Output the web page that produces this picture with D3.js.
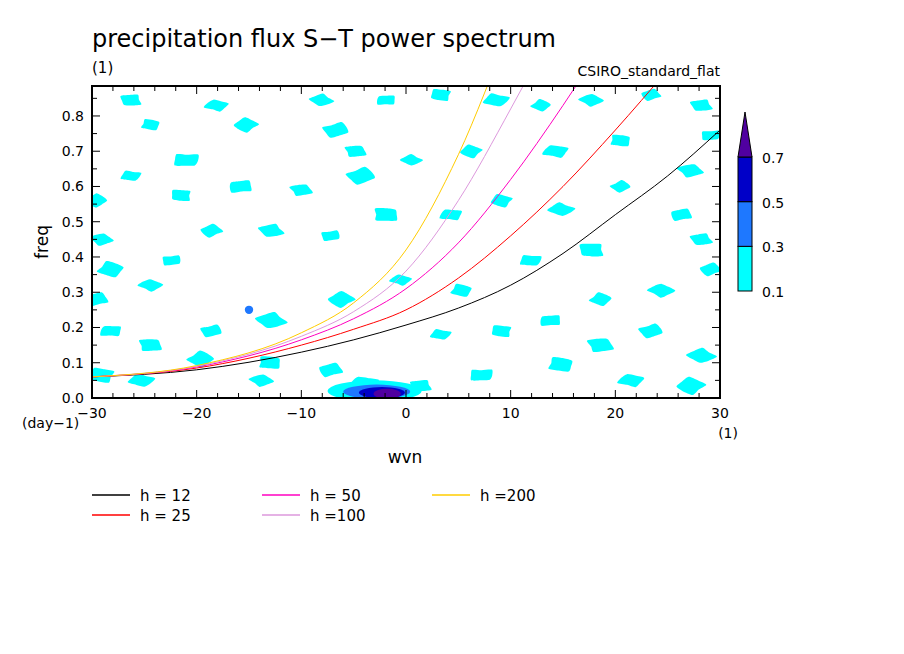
<!DOCTYPE html><html><head><meta charset="utf-8">
<script src="https://cdn.jsdelivr.net/npm/d3@7"></script>
<style>body{margin:0;background:#fff}text{font-family:"DejaVu Sans",sans-serif}</style></head><body>
<svg id="c" width="904" height="654"></svg>
<script>
const xTicks=[-30,-20,-10,0,10,20,30];
const yTicks=[0,0.1,0.2,0.3,0.4,0.5,0.6,0.7,0.8];
const curveWvn=[-30,-20,-10,-5,0,5,10,15,20,25,30];
const hLabels=["h = 12","h = 25","h = 50","h =100","h =200"];
const hColors=["#000000","#ff0000","#ff00c0","#dd99dd","#ffcc00"];
const hFreq=[
 [0.06,0.08,0.13,0.165,0.207,0.255,0.32,0.41,0.52,0.63,0.76],
 [0.06,0.085,0.15,0.195,0.25,0.34,0.46,0.6,0.76,0.93,1.1],
 [0.06,0.088,0.165,0.225,0.31,0.44,0.62,0.83,1.06,1.3,1.5],
 [0.06,0.09,0.175,0.245,0.36,0.56,0.82,1.1,1.4,1.7,2],
 [0.06,0.092,0.185,0.27,0.42,0.69,1.05,1.4,1.8,2.2,2.6]];
// cyan patches (wvn, freq, size)
const blobs=[[-29.6,0.56,1],[-29.1,0.45,1],[-29.6,0.28,1.1],[-26.3,0.845,1],[-21,0.675,1.2],[-24.4,0.775,0.9],[-18.1,0.83,1],[-15.3,0.775,1.1],[-8.1,0.845,1],[-6.7,0.76,1.2],[-4.8,0.70,1],[-1.9,0.845,0.9],[3.3,0.86,1],[8.6,0.845,1.1],[12.9,0.83,0.9],[17.7,0.845,1],[23.4,0.86,0.9],[28.2,0.83,1],[29.1,0.745,0.9],[20.5,0.73,1],[14.3,0.70,1.1],[6.2,0.70,1],[0.5,0.675,0.9],[-4.3,0.63,1.3],[-10,0.59,1],[-15.8,0.60,1.1],[-21.5,0.575,1],[-26.3,0.63,0.9],[-28.2,0.365,1.2],[-24.4,0.32,1],[-18.6,0.475,1],[-12.9,0.475,1.1],[-7.2,0.46,0.9],[-1.9,0.52,1.2],[4.3,0.52,1],[9.1,0.56,1],[14.8,0.535,1.1],[20.5,0.60,0.9],[27.2,0.645,1.1],[26.3,0.52,1],[17.7,0.42,1.2],[11.9,0.39,1],[5.3,0.305,1],[-0.5,0.335,0.9],[-6.2,0.28,1.2],[-12.9,0.22,1.3],[-18.6,0.19,1],[-24.4,0.15,1.1],[-28.2,0.19,1],[-29.1,0.065,1.2],[-25.3,0.05,1.1],[-19.6,0.11,1.2],[-13.8,0.05,1],[-7.2,0.08,1.1],[1.4,0.035,1],[7.2,0.065,1.1],[14.8,0.095,1.2],[21.5,0.05,1.1],[27.2,0.035,1.3],[28.2,0.12,1.2],[23.4,0.19,1.1],[18.6,0.15,1.2],[13.8,0.22,1],[9.1,0.19,1],[3.3,0.18,0.9],[18.6,0.28,1],[24.4,0.305,1.1],[29.1,0.365,1],[28.2,0.45,1],[-22.4,0.39,0.9],[-13,0.1,1.1],[-4,0.04,1.3]];
const darkBlobs=[[-3,0.02,4.5,0.03,"#00ffff"],[-2.8,0.018,3.2,0.02,"#1e78ff"],[-2.3,0.015,2.2,0.016,"#0000c8"],[-1.8,0.012,1.3,0.014,"#5000a0"],[-15,0.25,0.4,0.012,"#1e78ff"]];
const cbLevels=["0.1","0.3","0.5","0.7"];
const cbColors=["#00ffff","#1e78ff","#0000c8"];

const svg=d3.select("#c");
const L=92,R=720,T=86,B=398;
const x=d3.scaleLinear().domain([-30,30]).range([L,R]);
const y=d3.scaleLinear().domain([0,0.885]).range([B,T]);
const g=svg.append("g");
g.append("clipPath").attr("id","cp").append("rect").attr("x",L).attr("y",T).attr("width",R-L).attr("height",B-T);
const pg=g.append("g").attr("clip-path","url(#cp)");
const pat=[1,0.8,1.15,0.85,1.1,0.75,1.2,0.9];
const closed=d3.line().curve(d3.curveCardinalClosed.tension(0.3));
blobs.forEach((b,i)=>{
  const pts=pat.map((f,k)=>{const ff=pat[(k+i*3)%8];const a=k/8*2*Math.PI+i;
    return [x(b[0])+Math.cos(a)*11*b[2]*ff,y(b[1])+Math.sin(a)*6*b[2]*ff];});
  pg.append("path").attr("d",closed(pts)).attr("fill","#00ffff");
});
darkBlobs.forEach(b=>pg.append("ellipse").attr("cx",x(b[0])).attr("cy",y(b[1]))
  .attr("rx",x(b[2])-x(0)).attr("ry",y(0)-y(b[3])).attr("fill",b[4]));
const line=d3.line().x(d=>x(d[0])).y(d=>y(d[1])).curve(d3.curveMonotoneX);
hFreq.forEach((f,i)=>pg.append("path").attr("d",line(curveWvn.map((w,j)=>[w,f[j]]))).attr("fill","none").attr("stroke",hColors[i]).attr("stroke-width",1));
g.append("rect").attr("x",L).attr("y",T).attr("width",R-L).attr("height",B-T).attr("fill","none").attr("stroke","#000").attr("stroke-width",2);
d3.range(-30,31,2).forEach(v=>{const len=xTicks.includes(v)?8:5;
  g.append("line").attr("x1",x(v)).attr("x2",x(v)).attr("y1",B).attr("y2",B-len).attr("stroke","#000");
  g.append("line").attr("x1",x(v)).attr("x2",x(v)).attr("y1",T).attr("y2",T+len).attr("stroke","#000");});
d3.range(0,0.89,0.05).forEach(v=>{const len=Math.round(v*100)%10==0?8:5;
  g.append("line").attr("y1",y(v)).attr("y2",y(v)).attr("x1",L).attr("x2",L+len).attr("stroke","#000");
  g.append("line").attr("y1",y(v)).attr("y2",y(v)).attr("x1",R).attr("x2",R-len).attr("stroke","#000");});
xTicks.forEach(v=>g.append("text").attr("x",x(v)).attr("y",B+20).attr("text-anchor","middle").attr("font-size",14).text(v<0?"\u2212"+(-v):v));
yTicks.forEach(v=>g.append("text").attr("x",L-8).attr("y",y(v)+5).attr("text-anchor","end").attr("font-size",14).text(v.toFixed(1)));
svg.append("text").attr("x",92).attr("y",47).attr("font-size",24).text("precipitation flux S\u2212T power spectrum");
svg.append("text").attr("x",92).attr("y",73).attr("font-size",15).text("(1)");
svg.append("text").attr("x",720).attr("y",76).attr("text-anchor","end").attr("font-size",14).text("CSIRO_standard_flat");
svg.append("text").attr("x",22).attr("y",428).attr("font-size",14).text("(day\u22121)");
svg.append("text").attr("x",738).attr("y",438).attr("text-anchor","end").attr("font-size",14).text("(1)");
svg.append("text").attr("x",405).attr("y",463).attr("text-anchor","middle").attr("font-size",17).text("wvn");
svg.append("text").attr("transform","translate(48,242) rotate(-90)").attr("text-anchor","middle").attr("font-size",17).text("freq");
const cy=d3.scaleLinear().domain([0,3]).range([291,157]);
cbColors.forEach((c,i)=>svg.append("rect").attr("x",738).attr("y",cy(i+1)).attr("width",14).attr("height",cy(i)-cy(i+1)).attr("fill",c).attr("stroke","#000"));
svg.append("path").attr("d",`M738,157L745,112L752,157Z`).attr("fill","#5000a0").attr("stroke","#000");
cbLevels.forEach((t,i)=>svg.append("text").attr("x",762).attr("y",cy(i)+6).attr("font-size",14).text(t));
hLabels.forEach((t,i)=>{const col=[0,0,1,1,2][i],row=[0,1,0,1,0][i];
  const lx=92+col*170,ly=495+row*20;
  svg.append("line").attr("x1",lx).attr("x2",lx+38).attr("y1",ly).attr("y2",ly).attr("stroke",hColors[i]).attr("stroke-width",1.5);
  svg.append("text").attr("x",lx+48).attr("y",ly+6).attr("font-size",15).text(t);});
</script></body></html>
